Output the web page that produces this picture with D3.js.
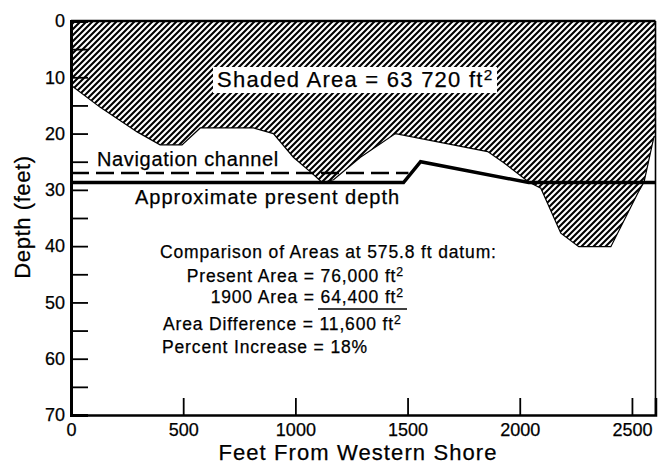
<!DOCTYPE html>
<html>
<head>
<meta charset="utf-8">
<script src="https://cdn.jsdelivr.net/npm/d3@7"></script>
<style>
  body { margin: 0; background: #fff; }
  svg { font-family: "Liberation Sans", Helvetica, Arial, sans-serif; }
  svg text { stroke: #000; stroke-width: 0.25px; }
</style>
</head>
<body>
<script>
// 1900 river-bed profile (feet from western shore, depth in feet)
var profileX = [0, 129, 295, 397, 495, 576, 813, 902, 991, 1067, 1120, 1170, 1290, 1446, 1857, 1929, 2040, 2094, 2183, 2263, 2406, 2527, 2554, 2598, 2605];
var profileDepth = [11.4, 15.3, 19.7, 22, 22, 19, 19, 20, 24.2, 26.8, 28.7, 28.2, 24.2, 20, 23.2, 25.2, 28.6, 29.7, 37.7, 40.1, 40.1, 30.5, 28.6, 20.6, 20.6];

// navigation channel (dashed)
var channelX = [0, 1504];
var channelDepth = [27, 27];

// approximate present depth (thick)
var presentX = [0, 1482, 1558, 2040, 2605];
var presentDepth = [28.7, 28.7, 25, 28.7, 28.7];

var xTicks = [0, 500, 1000, 1500, 2000, 2500];
var yTicks = [0, 10, 20, 30, 40, 50, 60, 70];
var yMinor = [5, 15, 25, 35, 45, 55, 65];

var notes = [
  "Comparison of Areas at 575.8 ft datum:",
  "Present Area = 76,000 ft",
  "1900 Area = 64,400 ft",
  "Area Difference = 11,600 ft",
  "Percent Increase = 18%"
];

var W = 670, H = 465;
var mLeft = 71, mRight = 655.5, mTop = 21, mBottom = 415;

var x = d3.scaleLinear().domain([0, 2605]).range([mLeft, mRight]);
var y = d3.scaleLinear().domain([0, 70]).range([mTop, mBottom]);

var svg = d3.select("body").append("svg")
  .attr("width", W).attr("height", H);

var defs = svg.append("defs");
defs.append("pattern")
  .attr("id", "hatch")
  .attr("patternUnits", "userSpaceOnUse")
  .attr("width", 6).attr("height", 6)
  .append("path")
  .attr("d", "M0,6 L6,0 M-1.5,1.5 L1.5,-1.5 M4.5,7.5 L7.5,4.5")
  .attr("stroke", "#000")
  .attr("stroke-width", 2.1);

defs.append("clipPath").attr("id", "plot")
  .append("rect")
  .attr("x", mLeft).attr("y", mTop)
  .attr("width", mRight - mLeft).attr("height", mBottom - mTop);

var g = svg.append("g").attr("clip-path", "url(#plot)");

// shaded area: river surface down to 1900 bottom
var profile = profileX.map(function(v, i) { return [v, profileDepth[i]]; });
var shaded = [[0, 0]].concat(profile, [[2605, 0]]);

var line = d3.line()
  .x(function(d) { return x(d[0]); })
  .y(function(d) { return y(d[1]); });

g.append("path")
  .attr("d", line(shaded) + "Z")
  .attr("fill", "url(#hatch)");

g.append("path")
  .attr("d", line(profile))
  .attr("fill", "none")
  .attr("stroke", "#000")
  .attr("stroke-width", 1.2);

// white box behind the area label
g.append("rect")
  .attr("x", 213).attr("y", 67)
  .attr("width", 284).attr("height", 26)
  .attr("fill", "#fff");

g.append("path")
  .attr("d", line(channelX.map(function(v, i) { return [v, channelDepth[i]]; })))
  .attr("fill", "none")
  .attr("stroke", "#000")
  .attr("stroke-width", 2.4)
  .attr("stroke-dasharray", "18,7");

g.append("path")
  .attr("d", line(presentX.map(function(v, i) { return [v, presentDepth[i]]; })))
  .attr("fill", "none")
  .attr("stroke", "#000")
  .attr("stroke-width", 3.5)
  .attr("stroke-linejoin", "miter");

// frame
svg.append("line").attr("x1", mLeft).attr("x2", mRight).attr("y1", mTop).attr("y2", mTop)
  .attr("stroke", "#000").attr("stroke-width", 2.5);
svg.append("line").attr("x1", mRight).attr("x2", mRight).attr("y1", mTop).attr("y2", mBottom)
  .attr("stroke", "#000").attr("stroke-width", 1.6);

// axes
var yAxis = svg.append("g")
  .attr("transform", "translate(" + mLeft + ",0)")
  .call(d3.axisLeft(y).tickValues(yTicks).tickSize(-17).tickPadding(6));
var yAxisMinor = svg.append("g")
  .attr("transform", "translate(" + mLeft + ",0)")
  .call(d3.axisLeft(y).tickValues(yMinor).tickSize(-17).tickFormat(""));
var xAxis = svg.append("g")
  .attr("transform", "translate(0," + mBottom + ")")
  .call(d3.axisBottom(x).tickValues(xTicks).tickSize(-17).tickPadding(8).tickFormat(d3.format("d")));

[yAxis, yAxisMinor, xAxis].forEach(function(a) {
  a.select(".domain").attr("stroke", "#000").attr("stroke-width", 3);
  a.selectAll(".tick line").attr("stroke", "#000").attr("stroke-width", 1.8);
  a.selectAll(".tick text").attr("fill", "#000").style("font-size", "18px");
});
xAxis.select(".domain").attr("stroke-width", 2.5);
xAxis.selectAll(".tick").filter(function(d) { return d === 0; }).select("line").remove();
yAxis.selectAll(".tick").filter(function(d) { return d === 0 || d === 70; }).select("line").remove();

// labels
svg.append("text")
  .attr("transform", "translate(30,217) rotate(-90)")
  .attr("text-anchor", "middle")
  .style("font-size", "22px")
  .style("letter-spacing", "0.6px")
  .text("Depth (feet)");

svg.append("text")
  .attr("x", 358).attr("y", 460)
  .attr("text-anchor", "middle")
  .style("font-size", "22px")
  .style("letter-spacing", "1.1px")
  .text("Feet From Western Shore");

function sup(t) {
  t.append("tspan").attr("dy", "-0.45em").style("font-size", "0.7em").text("2");
}

var sh = svg.append("text")
  .attr("x", 217).attr("y", 87)
  .style("font-size", "22px")
  .style("letter-spacing", "1.25px")
  .text("Shaded Area = 63 720 ft");
sup(sh);

svg.append("text")
  .attr("x", 97).attr("y", 166)
  .style("font-size", "20px")
  .style("letter-spacing", "0.65px")
  .text("Navigation channel");

svg.append("text")
  .attr("x", 135).attr("y", 204)
  .style("font-size", "20px")
  .style("letter-spacing", "1px")
  .text("Approximate present depth");

// comparison block
var fsz = "17.5px", ls = "0.85px";
svg.append("text").attr("x", 160).attr("y", 258).style("font-size", fsz).style("letter-spacing", ls).text(notes[0]);
var n1 = svg.append("text").attr("x", 404).attr("y", 282).attr("text-anchor", "end").style("font-size", fsz).style("letter-spacing", ls);
n1.append("tspan").text(notes[1]); sup(n1);
var n2 = svg.append("text").attr("x", 404).attr("y", 303).attr("text-anchor", "end").style("font-size", fsz).style("letter-spacing", ls);
n2.append("tspan").text(notes[2]); sup(n2);
svg.append("line").attr("x1", 318).attr("x2", 407).attr("y1", 309).attr("y2", 309)
  .attr("stroke", "#000").attr("stroke-width", 1.3);
var n3 = svg.append("text").attr("x", 163).attr("y", 330).style("font-size", fsz).style("letter-spacing", ls);
n3.append("tspan").text(notes[3]); sup(n3);
svg.append("text").attr("x", 162).attr("y", 353).style("font-size", fsz).style("letter-spacing", ls).text(notes[4]);
</script>
</body>
</html>
